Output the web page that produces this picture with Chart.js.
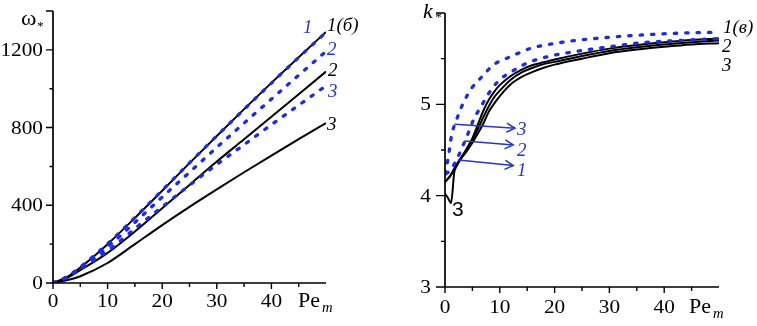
<!DOCTYPE html>
<html><head><meta charset="utf-8">
<script src="https://cdn.jsdelivr.net/npm/chart.js@4"></script>
<style>
html,body{margin:0;padding:0;background:#fff;}
#wrap{position:relative;width:757px;height:326px;overflow:hidden;background:#fff;}
.pane{position:absolute;top:0;height:326px;}
</style></head><body>
<div id="wrap">
<div class="pane" style="left:0;width:380px"><canvas id="left" width="380" height="326"></canvas></div>
<div class="pane" style="left:380px;width:377px"><canvas id="right" width="377" height="326"></canvas></div>
</div>
<script>
// ---------- data: left panel (omega*) ----------
const omegaX      = [0, 2.5, 5, 10, 15, 20, 25, 30, 35, 40, 45, 50];
const omegaBlack1 = [0, 30, 80, 200, 335, 475, 617, 757, 895, 1030, 1162, 1292];
const omegaBlack2 = [0, 25, 66, 155, 265, 385, 505, 625, 740, 856, 972, 1088];
const omegaBlack3 = [0, 14, 35, 103, 200, 298, 392, 482, 570, 656, 740, 823];
const omegaBlue1  = [0, 31, 82, 202, 337, 477, 618, 757, 894, 1029, 1161, 1290];
const omegaBlue2  = [0, 30, 78, 185, 312, 442, 570, 698, 823, 947, 1070, 1192];
const omegaBlue3  = [0, 28, 72, 165, 280, 392, 503, 610, 712, 815, 915, 1015];
const omegaTicks  = [0, 400, 800, 1200];
const peTicks     = [0, 10, 20, 30, 40];

// ---------- data: right panel (k*) ----------
const kBlackX  = [0, 1, 2, 3, 4, 5, 6, 7, 8, 9, 10, 12, 14, 16, 18, 20, 25, 30, 35, 40, 45, 50];
const kBlack1  = [4.15, 4.22, 4.33, 4.42, 4.52, 4.63, 4.78, 4.93, 5.05, 5.14, 5.21, 5.31, 5.38, 5.43, 5.46, 5.49, 5.555, 5.61, 5.65, 5.68, 5.705, 5.72];
const kBlack2  = [4.15, 4.22, 4.32, 4.42, 4.51, 4.61, 4.73, 4.86, 4.98, 5.08, 5.15, 5.27, 5.35, 5.40, 5.44, 5.465, 5.53, 5.585, 5.625, 5.655, 5.68, 5.70];
const kBlack3X = [0, 0.5, 1.1, 1.7, 2, 3, 4, 5, 6, 7, 8, 9, 10, 12, 14, 16, 18, 20, 25, 30, 35, 40, 45, 50];
const kBlack3  = [4.02, 3.98, 3.92, 4.26, 4.31, 4.41, 4.49, 4.58, 4.68, 4.79, 4.92, 5.01, 5.09, 5.22, 5.30, 5.355, 5.40, 5.435, 5.50, 5.56, 5.60, 5.63, 5.655, 5.67];
const kBlueAX  = [0, 0.6, 1.2, 2.1, 3.3, 4.9, 6.7, 8.8, 11.9, 15.5, 20.4, 24, 30, 36, 43, 50];
const kBlueA   = [4.24, 4.42, 4.66, 4.83, 5.01, 5.18, 5.30, 5.43, 5.52, 5.61, 5.67, 5.70, 5.735, 5.76, 5.78, 5.79];
const kBlueBX  = [0.2, 1, 2, 3, 4, 5.2, 6.7, 8.2, 10, 12.2, 14.9, 18.6, 24, 30, 36, 43, 50];
const kBlueB   = [4.24, 4.28, 4.38, 4.51, 4.65, 4.83, 4.99, 5.14, 5.27, 5.36, 5.45, 5.52, 5.58, 5.63, 5.675, 5.70, 5.72];
const kTicks   = [3, 4, 5];
// arrows (data coords): start x, start k, end x, end k
const arrowStartX = [1.82, 3.65, 2.43];
const arrowStartK = [4.782, 4.599, 4.391];
const arrowEndX   = [12.77, 12.46, 12.46];
const arrowEndK   = [4.738, 4.555, 4.329];

// ---------- styling ----------
const BLUE = 'rgb(28,44,226)';
const BLUE_TXT = 'rgb(38,56,196)';
const SERIF = '"Liberation Serif"';
const SANS = '"Liberation Sans"';
const SX = 1.12;

const pts = (xs, ys) => xs.map((x, i) => ({x, y: ys[i]}));
const solid = (xs, ys) => ({data: pts(xs, ys), borderColor: '#000', borderWidth: 2, pointRadius: 0, fill: false, cubicInterpolationMode: 'monotone'});
const dotted = (xs, ys) => ({data: pts(xs, ys), borderColor: BLUE, borderWidth: 3.3, borderDash: [2.4, 9], borderCapStyle: 'round', pointRadius: 0, fill: false, cubicInterpolationMode: 'monotone'});

function txt(ctx, s, x, y, font, color, align, sx) {
  ctx.save();
  ctx.font = font; ctx.fillStyle = color; ctx.textAlign = align || 'left'; ctx.textBaseline = 'alphabetic';
  ctx.translate(x, y); ctx.scale(sx || SX, 1); ctx.fillText(s, 0, 0);
  ctx.restore();
}

function decor(cfg) {
  return {
    id: 'decor',
    afterDraw(chart) {
      const ctx = chart.ctx, xs = chart.scales.x, ys = chart.scales.y;
      const X = v => xs.getPixelForValue(v), Y = v => ys.getPixelForValue(v);
      const x0 = X(xs.min), x1 = X(xs.max), y0 = Y(ys.min), y1 = Y(ys.max);
      ctx.save();
      ctx.strokeStyle = '#000'; ctx.lineWidth = 1.7;
      ctx.beginPath(); ctx.moveTo(x0, y1); ctx.lineTo(x0, y0); ctx.lineTo(x1, y0); ctx.stroke();
      ctx.lineWidth = 1.4;
      ctx.beginPath();
      cfg.yMajor.forEach(v => { ctx.moveTo(x0, Y(v)); ctx.lineTo(x0 - cfg.yMajorLen, Y(v)); });
      cfg.yMinor.forEach(v => { ctx.moveTo(x0, Y(v)); ctx.lineTo(x0 - cfg.yMinorLen, Y(v)); });
      cfg.xMajor.forEach(v => { ctx.moveTo(X(v), y0); ctx.lineTo(X(v), y0 + 6); });
      cfg.xMinor.forEach(v => { ctx.moveTo(X(v), y0); ctx.lineTo(X(v), y0 + 4); });
      ctx.stroke();
      const tf = '19px ' + SERIF;
      cfg.yLabels.forEach(v => txt(ctx, String(v), x0 - cfg.yPad, Y(v) + 6, tf, '#000', 'right'));
      cfg.xLabels.forEach(v => txt(ctx, String(v), X(v), y0 + cfg.xBase, tf, '#000', 'center'));
      cfg.draw(ctx, X, Y, x0, y0);
      ctx.restore();
    }
  };
}

const commonOpts = (xmin, xmax, ymin, ymax, yW, xH, pad) => ({
  responsive: false, animation: false, devicePixelRatio: 1,
  layout: {padding: pad},
  plugins: {legend: {display: false}, tooltip: {enabled: false}},
  scales: {
    x: {type: 'linear', min: xmin, max: xmax, ticks: {display: false}, grid: {display: false, drawTicks: false}, border: {display: false},
        afterFit: s => { s.height = xH; }},
    y: {type: 'linear', min: ymin, max: ymax, ticks: {display: false}, grid: {display: false, drawTicks: false}, border: {display: false},
        afterFit: s => { s.width = yW; }}
  }
});

// ---------- left chart ----------
new Chart(document.getElementById('left'), {
  type: 'line',
  data: {datasets: [
    dotted(omegaX, omegaBlue1), dotted(omegaX, omegaBlue2), dotted(omegaX, omegaBlue3),
    solid(omegaX, omegaBlack1), solid(omegaX, omegaBlack2), solid(omegaX, omegaBlack3)
  ]},
  options: commonOpts(0, 50, 0, 1400, 53, 43, {left: 0, right: 54, top: 11, bottom: 0}),
  plugins: [decor({
    yMajor: [0, 400, 800, 1200, 1400], yMinor: [200, 600, 1000], yMajorLen: 7, yMinorLen: 3.5,
    xMajor: [0, 10, 20, 30, 40], xMinor: [5, 15, 25, 35, 45],
    yLabels: omegaTicks, xLabels: peTicks, yPad: 10, xBase: 24,
    draw(ctx, X, Y, x0, y0) {
      txt(ctx, 'ω', 21, 25, '21px ' + SERIF, '#000');
      txt(ctx, '*', 37, 30, '12px ' + SERIF, '#000');
      txt(ctx, 'Pe', 298, 307, '21px ' + SERIF, '#000', 'left', 1.05);
      txt(ctx, 'm', 322, 312, 'italic 14px ' + SERIF, '#000', 'left', 1.05);
      const it = 'italic 18px ' + SERIF;
      txt(ctx, '1', 303, 33, it, BLUE_TXT, 'left', 1.05);
      txt(ctx, '1(б)', 327, 31, it, '#000', 'left', 1.05);
      txt(ctx, '2', 327, 55, it, BLUE_TXT, 'left', 1.05);
      txt(ctx, '2', 328, 76, it, '#000', 'left', 1.05);
      txt(ctx, '3', 328, 97, it, BLUE_TXT, 'left', 1.05);
      txt(ctx, '3', 327, 130, it, '#000', 'left', 1.05);
    }
  })]
});

// ---------- right chart ----------
new Chart(document.getElementById('right'), {
  type: 'line',
  data: {datasets: [
    dotted(kBlueAX, kBlueA), dotted(kBlueBX, kBlueB),
    solid(kBlackX, kBlack1), solid(kBlackX, kBlack2), solid(kBlack3X, kBlack3)
  ]},
  options: commonOpts(0, 50, 3, 6, 65, 39, {left: 0, right: 38, top: 13, bottom: 0}),
  plugins: [decor({
    yMajor: [3, 4, 5, 6], yMinor: [3.5, 4.5, 5.5], yMajorLen: 9, yMinorLen: 4,
    xMajor: [0, 10, 20, 30, 40], xMinor: [5, 15, 25, 35, 45],
    yLabels: kTicks, xLabels: peTicks, yPad: 14, xBase: 26,
    draw(ctx, X, Y, x0, y0) {
      const o = 380;
      txt(ctx, 'k', 423 - o, 18, 'italic 21px ' + SERIF, '#000', 'left', 1.05);
      txt(ctx, '*', 435 - o, 21, '12px ' + SERIF, '#000');
      txt(ctx, 'Pe', 689 - o, 313, '21px ' + SERIF, '#000', 'left', 1.05);
      txt(ctx, 'm', 713 - o, 318, 'italic 14px ' + SERIF, '#000', 'left', 1.05);
      const it = 'italic 18px ' + SERIF;
      txt(ctx, '1(в)', 723 - o, 33, it, '#000', 'left', 1.05);
      txt(ctx, '2', 722 - o, 52, it, '#000', 'left', 1.05);
      txt(ctx, '3', 722 - o, 71, it, '#000', 'left', 1.05);
      txt(ctx, '3', 517 - o, 135, it, BLUE_TXT, 'left', 1.05);
      txt(ctx, '2', 517 - o, 156, it, BLUE_TXT, 'left', 1.05);
      txt(ctx, '1', 517 - o, 176, it, BLUE_TXT, 'left', 1.05);
      txt(ctx, '3', 452 - o, 216, '21px ' + SANS, '#000', 'left', 1.0);
      ctx.save();
      ctx.strokeStyle = BLUE_TXT; ctx.lineWidth = 1.5; ctx.lineCap = 'round';
      arrowStartX.forEach((sx, i) => {
        const ax = X(sx), ay = Y(arrowStartK[i]), bx = X(arrowEndX[i]), by = Y(arrowEndK[i]);
        const ang = Math.atan2(by - ay, bx - ax), L = 9, W = 0.5;
        ctx.beginPath();
        ctx.moveTo(ax, ay); ctx.lineTo(bx, by);
        ctx.moveTo(bx - L * Math.cos(ang - W), by - L * Math.sin(ang - W)); ctx.lineTo(bx, by);
        ctx.lineTo(bx - L * Math.cos(ang + W), by - L * Math.sin(ang + W));
        ctx.stroke();
      });
      ctx.restore();
    }
  })]
});
</script>
</body></html>
